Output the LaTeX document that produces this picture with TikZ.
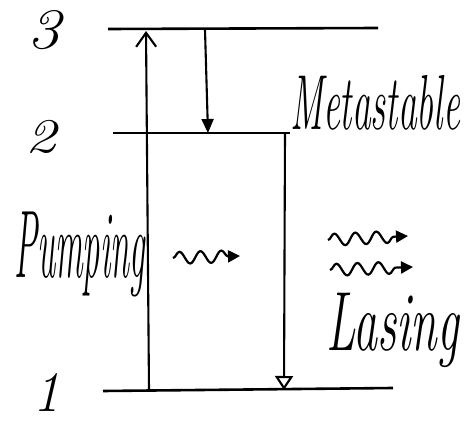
\documentclass[tikz,border=0pt]{standalone}
\usepackage{graphicx}
\usetikzlibrary{decorations.pathmorphing,arrows.meta}
\begin{document}
\begin{tikzpicture}[x=1pt,y=-1pt,
  level/.style={line width=2.6pt},
  trans/.style={line width=2.1pt},
  hw/.style={font=\itshape\fontsize{30}{30}\selectfont, inner sep=0pt},
  num/.style={font=\itshape\fontsize{44}{44}\selectfont, inner sep=0pt},
  photon/.style={line width=2.2pt, decorate, decoration={snake, amplitude=6pt, segment length=21pt, post length=10pt}, -{Triangle[length=12pt,width=12pt]}}]
\useasboundingbox (0,0) rectangle (466,425);
% level coordinates
\coordinate (l3a) at (108,29);  \coordinate (l3b) at (378,28);
\coordinate (l2a) at (113,133); \coordinate (l2b) at (290,133);
\coordinate (l1a) at (103,391); \coordinate (l1b) at (393,388);
\draw[level] (l3a) -- (l3b);
\draw[level] (l2a) -- (l2b);
\draw[level] (l1a) -- (l1b);
% transition endpoints
\coordinate (p1) at (149,390); \coordinate (p3) at (146,31);
\coordinate (d3) at (205,30);  \coordinate (d2) at (208,133);
\coordinate (m2) at (285,133); \coordinate (m1) at (284,390);
\draw[trans,-{Straight Barb[length=14pt,width=20pt]}] (p1) -- (p3);
\draw[trans,-{Triangle[length=14pt,width=12pt]}] (d3) -- (d2);
\draw[trans,-{Triangle[length=14pt,width=18pt,open]}] (m2) -- (m1);
% labels
\node[num] (n3) at (44,30) {\scalebox{1.5}[1.3]{3}};
\node[num] (n2) at (41,137) {\scalebox{1.4}[1.1]{2}};
\node[num] (n1) at (47,392) {\scalebox{1.2}[1.3]{1}};
\node[hw, anchor=base west] (meta) at (290,130) {\scalebox{1.25}[2.6]{Metastable}};
\node[hw, anchor=base west] (pump) at (14,277) {\scalebox{1.15}[3.2]{Pumping}};
\node[hw, anchor=base west] (las) at (326,350) {\scalebox{1.6}[2.8]{Lasing}};
% photons
\coordinate (w1a) at (173,258); \coordinate (w1b) at (240,256);
\coordinate (w2a) at (328,240); \coordinate (w2b) at (408,236);
\coordinate (w3a) at (330,270); \coordinate (w3b) at (413,267);
\draw[photon] (w1a) -- (w1b);
\draw[photon] (w2a) -- (w2b);
\draw[photon] (w3a) -- (w3b);
\end{tikzpicture}
\end{document}
